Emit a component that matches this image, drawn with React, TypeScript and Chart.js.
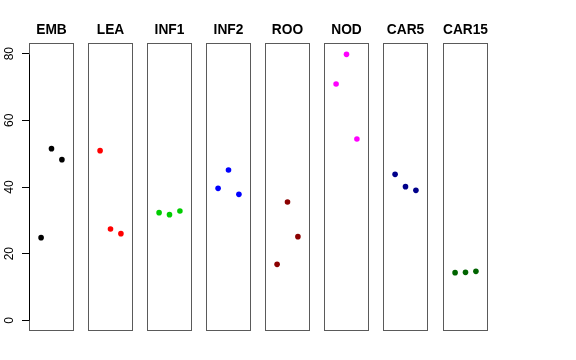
import React, { useEffect, useRef } from "react";
import { Chart, registerables } from "chart.js";

Chart.register(...registerables);

// ---- data ----
const categories = ["EMB", "LEA", "INF1", "INF2", "ROO", "NOD", "CAR5", "CAR15"];
const replicateX = [1, 2, 3];
const embValues = [24.8, 51.5, 48.2];
const leaValues = [50.9, 27.4, 26.0];
const inf1Values = [32.3, 31.7, 32.8];
const inf2Values = [39.6, 45.1, 37.8];
const rooValues = [16.8, 35.5, 25.1];
const nodValues = [70.9, 79.8, 54.4];
const car5Values = [43.8, 40.1, 39.0];
const car15Values = [14.3, 14.4, 14.7];
const seriesValues = [embValues, leaValues, inf1Values, inf2Values, rooValues, nodValues, car5Values, car15Values];
const yTickValues = [0, 20, 40, 60, 80];

// ---- styles / layout ----
const colors = ["#000000", "#FF0000", "#00CD00", "#0000FF", "#8B0000", "#FF00FF", "#00008B", "#006400"];
const panelLefts = [29, 88, 147, 206, 265, 324, 383, 443];
const panelWidth = 45;
const sidePad = 7;
const axisWidth = 29;
const W = 576;
const H = 360;
const FONT = "'Liberation Sans', Arial, Helvetica, sans-serif";

const boxPlugin = {
  id: "panelBox",
  afterDraw(chart: any) {
    const { ctx, chartArea } = chart;
    ctx.save();
    ctx.strokeStyle = "#5a5a5a";
    ctx.lineWidth = 1;
    ctx.strokeRect(chartArea.left + 0.5, chartArea.top + 0.5, chartArea.right - chartArea.left - 1, chartArea.bottom - chartArea.top - 1);
    const y = chart.scales.y;
    if (y && y.options.display) {
      const top = y.getPixelForValue(yTickValues[yTickValues.length - 1]);
      const bottom = y.getPixelForValue(yTickValues[0]);
      ctx.strokeStyle = "#000000";
      ctx.beginPath();
      ctx.moveTo(chartArea.left + 0.5, Math.round(bottom) + 0.5);
      ctx.lineTo(chartArea.left + 0.5, Math.round(top) + 0.5);
      ctx.stroke();
    }
    ctx.restore();
  },
};

function Panel({ index }: { index: number }) {
  const ref = useRef<HTMLCanvasElement | null>(null);
  const first = index === 0;
  const left = first ? 0 : panelLefts[index] - sidePad;
  const width = first ? panelLefts[0] + panelWidth + sidePad : panelWidth + 2 * sidePad;

  useEffect(() => {
    if (!ref.current) return;
    const chart = new Chart(ref.current, {
      type: "scatter",
      data: {
        datasets: [
          {
            label: categories[index],
            data: replicateX.map((x, i) => ({ x, y: seriesValues[index][i] })),
            backgroundColor: colors[index],
            borderColor: colors[index],
            pointRadius: 2.8,
            pointHoverRadius: 2.8,
            borderWidth: 0,
          },
        ],
      },
      options: {
        animation: false,
        responsive: false,
        devicePixelRatio: 1,
        events: [],
        layout: {
          padding: { top: 0, bottom: 29, left: first ? 0 : sidePad, right: sidePad },
        },
        scales: {
          x: {
            type: "linear",
            display: false,
            min: -0.16,
            max: 4.16,
          },
          y: {
            type: "linear",
            display: first,
            position: "left",
            min: -3.2,
            max: 83.2,
            afterBuildTicks: (axis: any) => {
              axis.ticks = yTickValues.map((v) => ({ value: v }));
            },
            afterFit: (axis: any) => {
              axis.width = first ? axisWidth : 0;
            },
            border: { display: false },
            grid: {
              display: true,
              drawOnChartArea: false,
              drawTicks: true,
              tickLength: 7,
              color: "#000000",
              lineWidth: 1,
            },
            ticks: {
              color: "#000000",
              font: { family: FONT, size: 12 },
              minRotation: 90,
              maxRotation: 90,
              crossAlign: "center",
              padding: 5.5,
            },
          },
        },
        plugins: {
          legend: { display: false },
          tooltip: { enabled: false },
          title: {
            display: true,
            text: categories[index],
            fullSize: !first,
            color: "#000000",
            font: { family: FONT, size: 13.75, weight: "bold", lineHeight: 1.2 },
            padding: { top: 22, bottom: 4.5 },
          },
        },
      },
      plugins: [boxPlugin],
    } as any);
    return () => chart.destroy();
  }, [index]);

  return (
    <canvas
      ref={ref}
      width={width}
      height={H}
      style={{ position: "absolute", left, top: 0, width, height: H }}
    />
  );
}

export default function App() {
  return (
    <div style={{ position: "absolute", left: 0, top: 0, width: W, height: H, background: "#ffffff" }}>
      {categories.map((c, i) => (
        <Panel key={c} index={i} />
      ))}
    </div>
  );
}
